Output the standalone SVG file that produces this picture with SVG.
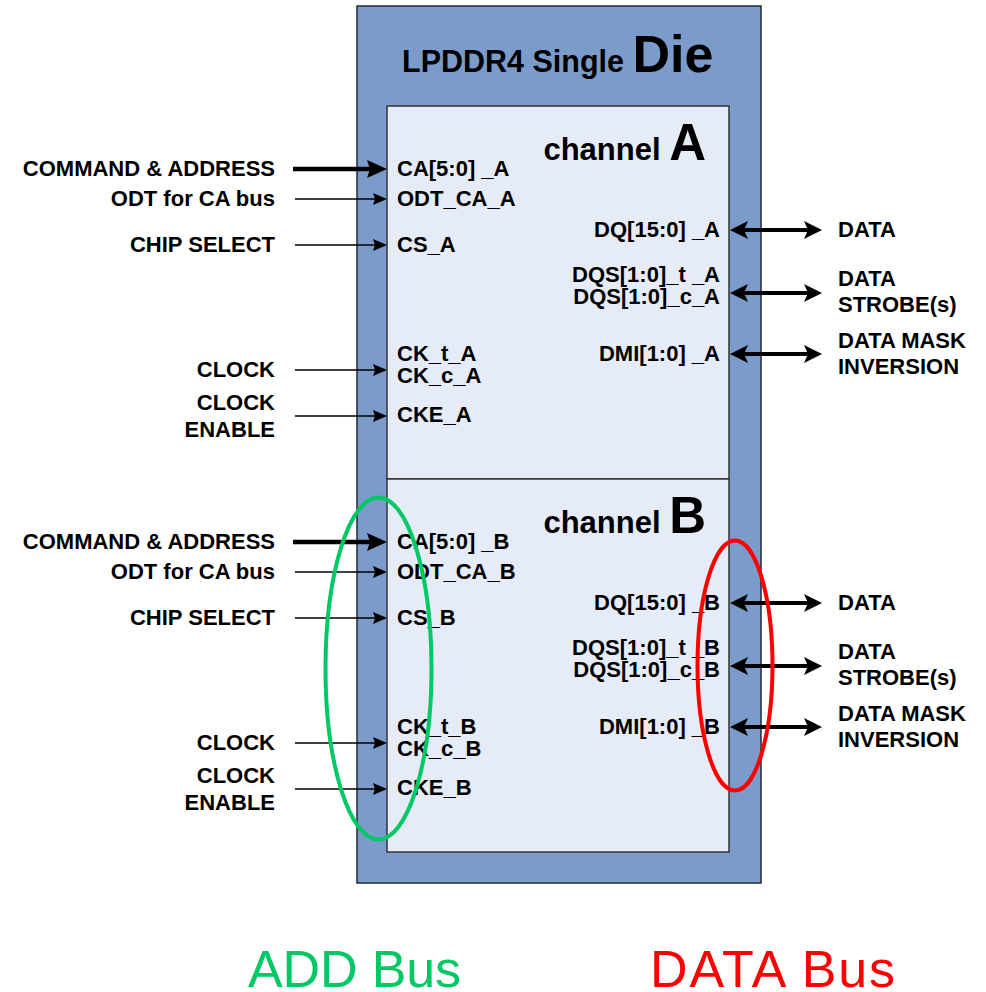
<svg xmlns="http://www.w3.org/2000/svg" width="986" height="992" viewBox="0 0 986 992">
  <style>
    .die { fill: #7b9ccb; stroke: #1e2a3a; stroke-width: 1.5; }
    .chan { fill: #e6ecf7; stroke: #333; stroke-width: 1.5; }
    text { font-family: "Liberation Sans", Arial, sans-serif; font-weight: bold; fill: #000; }
    .lbl { font-size: 22px; }
    .end { text-anchor: end; }
    .thin { stroke: #000; stroke-width: 1.5; fill: none; marker-end: url(#headThin); }
    .thick { stroke: #000; stroke-width: 4.5; fill: none; marker-end: url(#headThick); }
    .both { stroke: #000; stroke-width: 4; fill: none; marker-start: url(#headBoth); marker-end: url(#headBoth); }
    .bus { font-weight: normal; font-size: 52px; }
    .green { fill: #00c864; }
    .red { fill: #ff0000; }
  </style>
  <defs>
    <marker id="headThin" markerUnits="userSpaceOnUse" viewBox="0 0 14 12" refX="12" refY="6" markerWidth="14" markerHeight="12" orient="auto">
      <path d="M0,0 L14,6 L0,12 L2,6 z" fill="#000"/>
    </marker>
    <marker id="headThick" markerUnits="userSpaceOnUse" viewBox="0 0 20 18" refX="13" refY="9" markerWidth="20" markerHeight="18" orient="auto">
      <path d="M0,0 L20,9 L0,18 L3,9 z" fill="#000"/>
    </marker>
    <marker id="headBoth" markerUnits="userSpaceOnUse" viewBox="0 0 18 18" refX="14" refY="9" markerWidth="18" markerHeight="18" orient="auto-start-reverse">
      <path d="M0,0 L18,9 L0,18 L4,9 z" fill="#000"/>
    </marker>
  </defs>

  <!-- die package -->
  <g id="die">
    <rect class="die" x="357" y="6" width="404" height="877"/>
    <text x="402" y="72"><tspan font-size="30.5">LPDDR4 Single </tspan><tspan font-size="52">Die</tspan></text>
  </g>

  <!-- channel A -->
  <g id="channelA">
    <rect class="chan" x="387" y="106" width="342" height="373"/>
    <text class="end" x="706" y="160"><tspan font-size="31">channel </tspan><tspan font-size="51">A</tspan></text>
    <g class="lbl">
      <text x="397" y="176">CA[5:0] _A</text>
      <text x="397" y="206">ODT_CA_A</text>
      <text x="397" y="252">CS_A</text>
      <text x="397" y="361">CK_t_A</text>
      <text x="397" y="383">CK_c_A</text>
      <text x="397" y="422">CKE_A</text>
      <text class="end" x="720" y="237">DQ[15:0] _A</text>
      <text class="end" x="720" y="282">DQS[1:0]_t _A</text>
      <text class="end" x="720" y="304">DQS[1:0]_c_A</text>
      <text class="end" x="720" y="361">DMI[1:0] _A</text>
    </g>
  </g>

  <!-- channel B -->
  <g id="channelB" transform="translate(0,373)">
    <rect class="chan" x="387" y="106" width="342" height="373"/>
    <text class="end" x="706" y="160"><tspan font-size="31">channel </tspan><tspan font-size="51">B</tspan></text>
    <g class="lbl">
      <text x="397" y="176">CA[5:0] _B</text>
      <text x="397" y="206">ODT_CA_B</text>
      <text x="397" y="252">CS_B</text>
      <text x="397" y="361">CK_t_B</text>
      <text x="397" y="383">CK_c_B</text>
      <text x="397" y="422">CKE_B</text>
      <text class="end" x="720" y="237">DQ[15:0] _B</text>
      <text class="end" x="720" y="282">DQS[1:0]_t _B</text>
      <text class="end" x="720" y="304">DQS[1:0]_c_B</text>
      <text class="end" x="720" y="361">DMI[1:0] _B</text>
    </g>
  </g>

  <!-- signal names outside the die -->
  <g id="signalsA" class="lbl">
    <text class="end" x="275" y="176">COMMAND &amp; ADDRESS</text>
    <text class="end" x="275" y="206">ODT for CA bus</text>
    <text class="end" x="275" y="252">CHIP SELECT</text>
    <text class="end" x="275" y="377">CLOCK</text>
    <text class="end" x="275" y="410">CLOCK</text>
    <text class="end" x="275" y="437">ENABLE</text>
    <text x="838" y="237">DATA</text>
    <text x="838" y="286">DATA</text>
    <text x="838" y="312">STROBE(s)</text>
    <text x="838" y="348">DATA MASK</text>
    <text x="838" y="374">INVERSION</text>
  </g>
  <g id="signalsB" class="lbl" transform="translate(0,373)">
    <text class="end" x="275" y="176">COMMAND &amp; ADDRESS</text>
    <text class="end" x="275" y="206">ODT for CA bus</text>
    <text class="end" x="275" y="252">CHIP SELECT</text>
    <text class="end" x="275" y="377">CLOCK</text>
    <text class="end" x="275" y="410">CLOCK</text>
    <text class="end" x="275" y="437">ENABLE</text>
    <text x="838" y="237">DATA</text>
    <text x="838" y="286">DATA</text>
    <text x="838" y="312">STROBE(s)</text>
    <text x="838" y="348">DATA MASK</text>
    <text x="838" y="374">INVERSION</text>
  </g>

  <!-- connectors -->
  <g id="connectors">
    <g id="wiresA">
      <line class="thick" x1="293" y1="169" x2="380" y2="169"/>
      <line class="thin" x1="295" y1="199" x2="385" y2="199"/>
      <line class="thin" x1="295" y1="245" x2="385" y2="245"/>
      <line class="thin" x1="295" y1="370" x2="385" y2="370"/>
      <line class="thin" x1="295" y1="416" x2="385" y2="416"/>
      <line class="both" x1="734" y1="230" x2="818" y2="230"/>
      <line class="both" x1="734" y1="293" x2="818" y2="293"/>
      <line class="both" x1="734" y1="354" x2="818" y2="354"/>
    </g>
    <g id="wiresB" transform="translate(0,373)">
      <line class="thick" x1="293" y1="169" x2="380" y2="169"/>
      <line class="thin" x1="295" y1="199" x2="385" y2="199"/>
      <line class="thin" x1="295" y1="245" x2="385" y2="245"/>
      <line class="thin" x1="295" y1="370" x2="385" y2="370"/>
      <line class="thin" x1="295" y1="416" x2="385" y2="416"/>
      <line class="both" x1="734" y1="230" x2="818" y2="230"/>
      <line class="both" x1="734" y1="293" x2="818" y2="293"/>
      <line class="both" x1="734" y1="354" x2="818" y2="354"/>
    </g>
  </g>

  <!-- bus highlights -->
  <g id="addBus">
    <ellipse cx="378.5" cy="668.5" rx="53" ry="171" fill="none" stroke="#00c864" stroke-width="4"/>
    <text class="bus green" x="248" y="987" textLength="213" lengthAdjust="spacing">ADD Bus</text>
  </g>
  <g id="dataBus">
    <ellipse cx="735" cy="665.5" rx="37.5" ry="125" fill="none" stroke="#ff0000" stroke-width="4"/>
    <text class="bus red" x="650" y="987" textLength="245" lengthAdjust="spacing">DATA Bus</text>
  </g>
</svg>
